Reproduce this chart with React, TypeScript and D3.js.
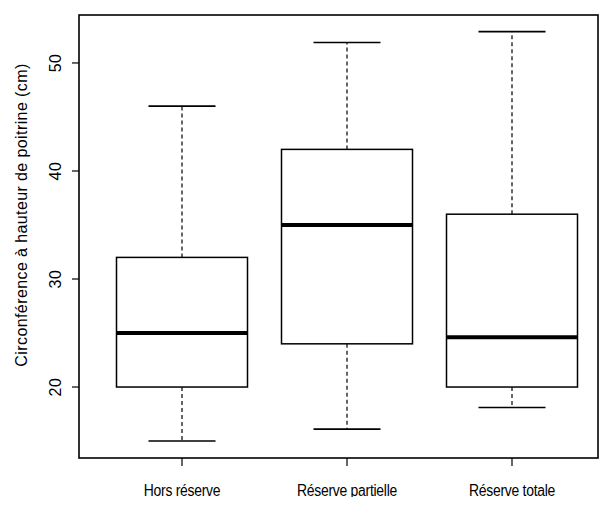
import { useEffect, useRef } from "react";
import * as d3 from "d3";

const WIDTH = 607;
const HEIGHT = 505;
const PLOT = { left: 79, right: 598, top: 15, bottom: 458 };

// box statistics
const groups = ["Hors réserve", "Réserve partielle", "Réserve totale"];
const lowWhisker = [15, 16.1, 18.1];
const q1 = [20, 24, 20];
const median = [25, 35, 24.6];
const q3 = [32, 42, 36];
const highWhisker = [46, 51.9, 52.9];
const yTicks = [20, 30, 40, 50];

const FONT = "'Liberation Sans', Arial, sans-serif";

export default function App() {
  const ref = useRef<SVGSVGElement>(null);

  useEffect(() => {
    const svg = d3.select(ref.current);
    svg.selectAll("*").remove();

    const y = d3.scaleLinear().domain([13.43, 54.44]).range([PLOT.bottom, PLOT.top]);
    const x = d3.scalePoint<string>().domain(groups).range([182, 512]);
    const boxW = 131;
    const capW = 67;

    const data = groups.map((g, i) => ({
      g,
      lo: lowWhisker[i],
      q1: q1[i],
      med: median[i],
      q3: q3[i],
      hi: highWhisker[i],
    }));

    const box = svg.append("g").selectAll("g").data(data).join("g");

    // whiskers
    box.append("line")
      .attr("x1", (d) => x(d.g)!).attr("x2", (d) => x(d.g)!)
      .attr("y1", (d) => y(d.q3)).attr("y2", (d) => y(d.hi))
      .attr("stroke", "#000").attr("stroke-width", 1.2).attr("stroke-dasharray", "4,3");
    box.append("line")
      .attr("x1", (d) => x(d.g)!).attr("x2", (d) => x(d.g)!)
      .attr("y1", (d) => y(d.q1)).attr("y2", (d) => y(d.lo))
      .attr("stroke", "#000").attr("stroke-width", 1.2).attr("stroke-dasharray", "4,3");

    // caps
    box.append("line")
      .attr("x1", (d) => x(d.g)! - capW / 2).attr("x2", (d) => x(d.g)! + capW / 2)
      .attr("y1", (d) => y(d.hi)).attr("y2", (d) => y(d.hi))
      .attr("stroke", "#000").attr("stroke-width", 1.6);
    box.append("line")
      .attr("x1", (d) => x(d.g)! - capW / 2).attr("x2", (d) => x(d.g)! + capW / 2)
      .attr("y1", (d) => y(d.lo)).attr("y2", (d) => y(d.lo))
      .attr("stroke", "#000").attr("stroke-width", 1.6);

    // box body
    box.append("rect")
      .attr("x", (d) => x(d.g)! - boxW / 2)
      .attr("y", (d) => y(d.q3))
      .attr("width", boxW)
      .attr("height", (d) => y(d.q1) - y(d.q3))
      .attr("fill", "#fff").attr("stroke", "#000").attr("stroke-width", 1.5);

    // median
    box.append("line")
      .attr("x1", (d) => x(d.g)! - boxW / 2).attr("x2", (d) => x(d.g)! + boxW / 2)
      .attr("y1", (d) => y(d.med)).attr("y2", (d) => y(d.med))
      .attr("stroke", "#000").attr("stroke-width", 4);

    // frame
    svg.append("rect")
      .attr("x", PLOT.left).attr("y", PLOT.top)
      .attr("width", PLOT.right - PLOT.left).attr("height", PLOT.bottom - PLOT.top)
      .attr("fill", "none").attr("stroke", "#000").attr("stroke-width", 1.6);

    // y axis
    const yAxis = svg.append("g").attr("transform", `translate(${PLOT.left},0)`);
    yAxis.selectAll("line").data(yTicks).join("line")
      .attr("x1", -7).attr("x2", 0)
      .attr("y1", (d) => y(d)).attr("y2", (d) => y(d))
      .attr("stroke", "#000").attr("stroke-width", 1.2);
    yAxis.selectAll("text").data(yTicks).join("text")
      .attr("transform", (d) => `translate(-18,${y(d)}) rotate(-90)`)
      .attr("text-anchor", "middle")
      .attr("font-family", FONT).attr("font-size", 16)
      .attr("letter-spacing", 0.5)
      .text((d) => d);

    // x axis
    const xAxis = svg.append("g").attr("transform", `translate(0,${PLOT.bottom})`);
    xAxis.selectAll("line").data(groups).join("line")
      .attr("x1", (d) => x(d)!).attr("x2", (d) => x(d)!)
      .attr("y1", 0).attr("y2", 8)
      .attr("stroke", "#000").attr("stroke-width", 1.2);
    xAxis.selectAll("text").data(groups).join("text")
      .attr("transform", (d) => `translate(${x(d)!},38) scale(0.87,1)`)
      .attr("text-anchor", "middle")
      .attr("font-family", FONT).attr("font-size", 16)
      .attr("letter-spacing", -0.3)
      .text((d) => d);

    // axis title
    svg.append("text")
      .attr("transform", `translate(27,215) rotate(-90)`)
      .attr("text-anchor", "middle")
      .attr("font-family", FONT).attr("font-size", 16)
      .attr("letter-spacing", 0.4)
      .text("Circonférence à hauteur de poitrine (cm)");
  }, []);

  return <svg ref={ref} width={WIDTH} height={HEIGHT} style={{ display: "block", margin: -8, background: "#fff" }} />;
}
